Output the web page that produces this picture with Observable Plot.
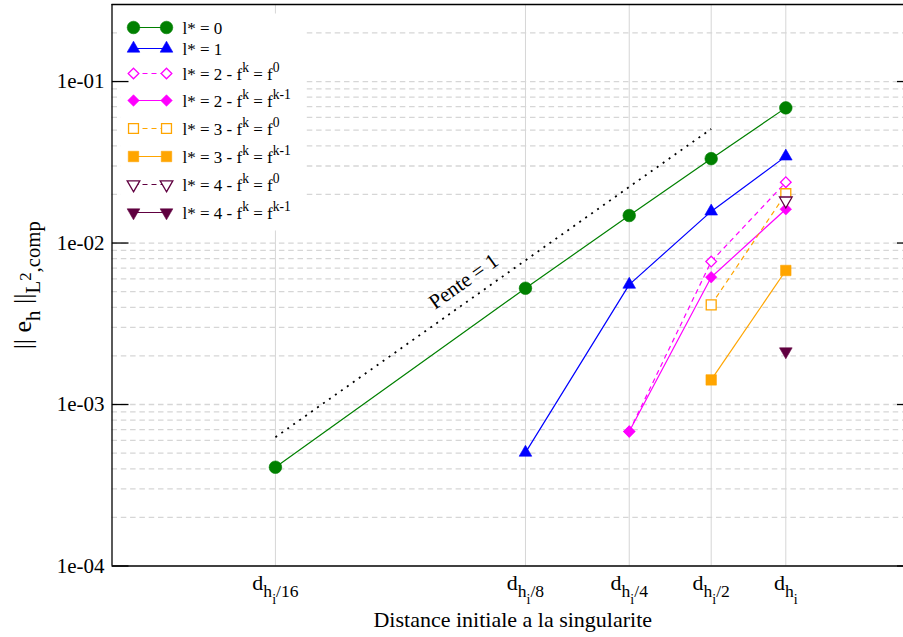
<!DOCTYPE html>
<html><head><meta charset="utf-8">
<script src="https://cdn.jsdelivr.net/npm/d3@7"></script>
<script src="https://cdn.jsdelivr.net/npm/@observablehq/plot@0.6"></script>
<style>
html,body{margin:0;padding:0;background:#fff;overflow:hidden;}
#chart svg{display:block;}
</style>
</head><body><div id="chart"></div>
<script>
// ---- data ----
const xTickLabels = ["d_{h_i/16}", "d_{h_i/8}", "d_{h_i/4}", "d_{h_i/2}", "d_{h_i}"];
const distances = [0.0058, 0.0723, 0.206, 0.471, 1.0];
const yTicks = [1e-4, 1e-3, 1e-2, 1e-1];
const yTickLabels = ["1e-04", "1e-03", "1e-02", "1e-01"];
const seriesLabels = ["l* = 0", "l* = 1", "l* = 2 - f^k = f^0", "l* = 2 - f^k = f^{k-1}",
  "l* = 3 - f^k = f^0", "l* = 3 - f^k = f^{k-1}", "l* = 4 - f^k = f^0", "l* = 4 - f^k = f^{k-1}"];
const err_l0      = [4.09e-4, 5.25e-3, 1.48e-2, 3.33e-2, 6.87e-2];
const err_l1      = [null, 5.04e-4, 5.53e-3, 1.57e-2, 3.44e-2];
const err_l2_f0   = [null, null, 6.8e-4, 7.68e-3, 2.38e-2];
const err_l2_fk1  = [null, null, 6.8e-4, 6.14e-3, 1.62e-2];
const err_l3_f0   = [null, null, null, 4.14e-3, 2.02e-2];
const err_l3_fk1  = [null, null, null, 1.42e-3, 6.76e-3];
const err_l4_f0   = [null, null, null, null, 1.83e-2];
const err_l4_fk1  = [null, null, null, null, 2.13e-3];
const slopeX = [0.0058, 0.471];
const slopeY = [6.27e-4, 5.09e-2];
const slopeText = "Pente = 1";
const slopeTextX = 0.0387, slopeTextY = 5.78e-3;
const xTitle = "Distance initiale a la singularite";
const yTitle = "|| e_h ||_{L^2,comp}";

// ---- scales domain ----
const X_MIN = 0.001115, X_MAX = 3.627;
const Y_MIN = 1e-4, Y_MAX = 0.3;

// ---- symbols ----
const sqrt3 = Math.sqrt(3);
const triDown = {draw(ctx, size) {
  const y = -Math.sqrt(size / (sqrt3 * 3));
  ctx.moveTo(0, -y * 2); ctx.lineTo(-sqrt3 * y, y); ctx.lineTo(sqrt3 * y, y); ctx.closePath();
}};
const tickRight = {draw(ctx) { ctx.moveTo(0, 0); ctx.lineTo(16.5, 0); }};
const tickLeft = {draw(ctx) { ctx.moveTo(0, 0); ctx.lineTo(-16.5, 0); }};
const legendLine = {draw(ctx) { ctx.moveTo(0, 0); ctx.lineTo(33, 0); }};
const legendBox = {draw(ctx) { ctx.rect(8.5, 9, 183, 217); }};

const GREEN = "#008000", BLUE = "#0000ff", MAG = "#ff00ff", ORANGE = "#ffa500", PURPLE = "#600040";
const seriesValues = [err_l0, err_l1, err_l2_f0, err_l2_fk1, err_l3_f0, err_l3_fk1, err_l4_f0, err_l4_fk1];
const seriesStyle = [
  {color: GREEN, symbol: d3.symbolCircle, r: 6.3, open: false},
  {color: BLUE, symbol: d3.symbolTriangle, r: 4.7, open: false},
  {color: MAG, symbol: d3.symbolDiamond2, r: 4.8, open: true},
  {color: MAG, symbol: d3.symbolDiamond2, r: 5.2, open: false},
  {color: ORANGE, symbol: d3.symbolSquare, r: 5.6, open: true},
  {color: ORANGE, symbol: d3.symbolSquare, r: 5.9, open: false},
  {color: PURPLE, symbol: triDown, r: 4.7, open: true},
  {color: PURPLE, symbol: triDown, r: 4.7, open: false}
];
const legendRows = [27, 48, 73, 100, 128, 156, 184, 212];

// grid values (log minor ticks)
const gridY = [];
for (let e = -4; e <= -1; e++) for (let m = 1; m <= 9; m++) {
  const v = m * Math.pow(10, e);
  if (v < Y_MAX * 0.999 && v > Y_MIN * 1.001) gridY.push(v);
}

const marks = [];
// grid
marks.push(Plot.ruleY(gridY, {y: d => d, stroke: "#d6d6d6", strokeWidth: 1.3, strokeDasharray: "5.5,3.8"}));
marks.push(Plot.ruleX(distances, {x: d => d, stroke: "#d6d6d6", strokeWidth: 1}));
// legend background
const anchor = {x: () => X_MIN, y: () => Y_MAX};
marks.push(Plot.dot([0], {...anchor, symbol: legendBox, fill: "white", stroke: "none"}));
// frame
marks.push(Plot.ruleY([Y_MIN, Y_MAX], {y: d => d, stroke: "black", strokeWidth: 1.3}));
marks.push(Plot.ruleX([X_MIN, X_MAX], {x: d => d, stroke: "black", strokeWidth: 1.3}));
marks.push(Plot.dot(yTicks, {x: () => X_MIN, y: d => d, symbol: tickRight, stroke: "black", fill: "none", strokeWidth: 1.3}));
marks.push(Plot.dot(yTicks, {x: () => X_MAX, y: d => d, symbol: tickLeft, stroke: "black", fill: "none", strokeWidth: 1.3}));
// y tick labels
marks.push(Plot.text(yTicks.map((v, i) => ({v, label: yTickLabels[i]})),
  {x: () => X_MIN, y: "v", text: "label", textAnchor: "end", dx: -7.5, fontSize: 21}));
// x tick labels
marks.push(Plot.text(distances.map((v, i) => ({v, label: xTickLabels[i]})),
  {x: "v", y: () => Y_MIN, text: "label", textAnchor: "middle", dy: 16.5, fontSize: 22}));
// titles
marks.push(Plot.text([xTitle], {x: null, y: null, frameAnchor: "bottom", text: d => d, textAnchor: "middle", dy: 60.5, fontSize: 22}));
marks.push(Plot.text([yTitle], {x: null, y: null, frameAnchor: "left", text: d => d, textAnchor: "middle", rotate: -90, dx: -89.8, dy: 0, fontSize: 26}));

// slope line
marks.push(Plot.line(slopeX.map((x, i) => ({x, y: slopeY[i]})),
  {x: "x", y: "y", stroke: "black", strokeWidth: 1.8, strokeDasharray: "2,5.3", strokeLinecap: "butt"}));
marks.push(Plot.text([{x: slopeTextX, y: slopeTextY, t: slopeText}], {x: "x", y: "y", text: "t", rotate: -35.3, fontSize: 21}));

// series
seriesValues.forEach((vals, k) => {
  const st = seriesStyle[k];
  const rows = distances.map((d, i) => ({x: d, y: vals[i]})).filter(r => r.y != null);
  const dash = st.open ? "5,4" : null;
  if (rows.length > 1) marks.push(Plot.line(rows, {x: "x", y: "y", stroke: st.color, strokeWidth: 1.2, strokeDasharray: dash, strokeLinecap: "butt"}));
  marks.push(Plot.dot(rows, {x: "x", y: "y", symbol: st.symbol, r: st.r,
    fill: st.open ? "white" : st.color, stroke: st.color, strokeWidth: st.open ? 1.3 : 0.6}));
  // legend entry
  const dy = legendRows[k] - 4;
  marks.push(Plot.dot([0], {...anchor, symbol: legendLine, stroke: st.color, strokeWidth: 1.2, strokeDasharray: dash, fill: "none", dx: 21.5, dy}));
  [21.5, 54.5].forEach(dx => marks.push(Plot.dot([0], {...anchor, symbol: st.symbol, r: st.r,
    fill: st.open ? "white" : st.color, stroke: st.color, strokeWidth: st.open ? 1.3 : 0.6, dx, dy})));
  marks.push(Plot.text([seriesLabels[k]], {...anchor, text: d => d, textAnchor: "start", dx: 70.5, dy: dy + 1, fontSize: 17}));
});

const chart = Plot.plot({
  width: 903, height: 637,
  marginLeft: 111.5, marginRight: -10, marginTop: 4, marginBottom: 71.5,
  style: {fontFamily: "'Liberation Serif', 'Times New Roman', serif", background: "white", color: "black"},
  x: {type: "log", domain: [X_MIN, X_MAX], axis: null},
  y: {type: "log", domain: [Y_MIN, Y_MAX], axis: null},
  marks
});
document.getElementById("chart").append(chart);

// gnuplot-style enhanced text: _ subscript, ^ superscript, {} grouping
const SVGNS = "http://www.w3.org/2000/svg";
function enhanced(textEl, str, size) {
  textEl.textContent = "";
  let cur = 0;
  function emit(s, fs, off) {
    if (!s) return;
    const t = document.createElementNS(SVGNS, "tspan");
    t.setAttribute("font-size", fs.toFixed(2));
    const d = off - cur;
    if (Math.abs(d) > 1e-6) t.setAttribute("dy", d.toFixed(2));
    cur = off;
    t.textContent = s;
    textEl.appendChild(t);
  }
  function parse(s, i, fs, off, inBrace) {
    let buf = "";
    while (i < s.length) {
      const c = s[i];
      if (c === "}" && inBrace) { emit(buf, fs, off); return i + 1; }
      if (c === "_" || c === "^") {
        emit(buf, fs, off); buf = "";
        const nfs = fs * 0.8;
        const noff = off + (c === "_" ? fs * 0.36 : -fs * 0.45);
        if (s[i + 1] === "{") i = parse(s, i + 2, nfs, noff, true);
        else { emit(s[i + 1], nfs, noff); i += 2; }
        continue;
      }
      buf += c; i++;
    }
    emit(buf, fs, off);
    return i;
  }
  parse(str, 0, size, 0, false);
}
chart.querySelectorAll("text").forEach(el => {
  const s = el.textContent;
  if (/[_^]/.test(s)) {
    const fs = parseFloat(getComputedStyle(el).fontSize) || 20;
    enhanced(el, s, fs);
  }
});
</script>
</body></html>
